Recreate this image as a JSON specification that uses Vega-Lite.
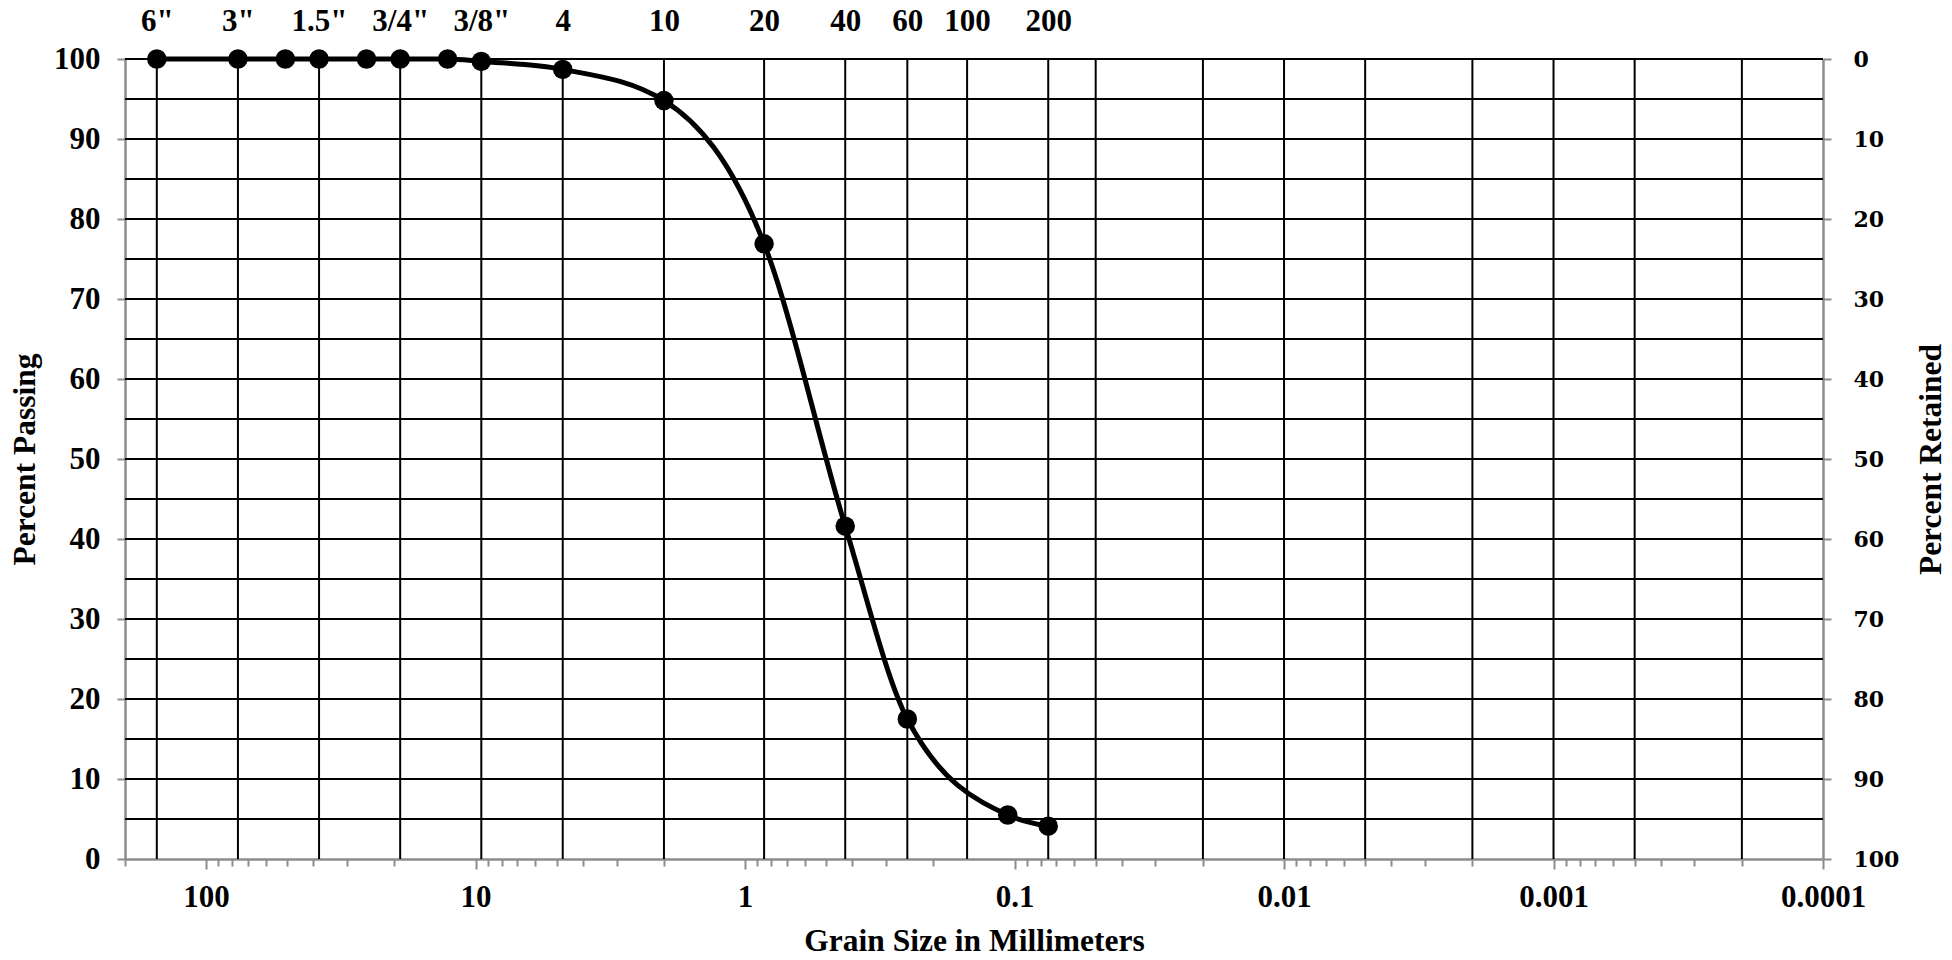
{
  "$schema": "https://vega.github.io/schema/vega-lite/v6.json",
  "width": 1698,
  "height": 800,
  "autosize": "none",
  "padding": {"left": 125, "top": 59, "right": 129, "bottom": 101},
  "background": "white",
  "config": {"view": {"stroke": null}},
  "datasets": {
    "points": [
      {"mm": 152.4, "passing": 100},
      {"mm": 76.2, "passing": 100},
      {"mm": 50.8, "passing": 100},
      {"mm": 38.1, "passing": 100},
      {"mm": 25.4, "passing": 100},
      {"mm": 19.05, "passing": 100},
      {"mm": 12.7, "passing": 100},
      {"mm": 9.525, "passing": 99.7},
      {"mm": 4.75, "passing": 98.7},
      {"mm": 2.0, "passing": 94.8},
      {"mm": 0.85, "passing": 76.9},
      {"mm": 0.425, "passing": 41.6},
      {"mm": 0.25, "passing": 17.5},
      {"mm": 0.106, "passing": 5.5},
      {"mm": 0.075, "passing": 4.1}
    ],
    "vgrid": [
      {"mm": 152.4}, {"mm": 76.2}, {"mm": 38.1}, {"mm": 19.05}, {"mm": 9.525},
      {"mm": 4.75}, {"mm": 2}, {"mm": 0.85}, {"mm": 0.425}, {"mm": 0.25},
      {"mm": 0.15}, {"mm": 0.075}, {"mm": 0.05}, {"mm": 0.02}, {"mm": 0.01},
      {"mm": 0.005}, {"mm": 0.002}, {"mm": 0.001}, {"mm": 0.0005}, {"mm": 0.0002}
    ],
    "hgrid": [
      {"p": 5}, {"p": 10}, {"p": 15}, {"p": 20}, {"p": 25}, {"p": 30}, {"p": 35},
      {"p": 40}, {"p": 45}, {"p": 50}, {"p": 55}, {"p": 60}, {"p": 65}, {"p": 70},
      {"p": 75}, {"p": 80}, {"p": 85}, {"p": 90}, {"p": 95}, {"p": 100}
    ]
  },
  "resolve": {"axis": {"x": "independent", "y": "independent"}},
  "layer": [
    {
      "data": {"name": "hgrid"},
      "mark": {"type": "rule", "color": "black", "strokeWidth": 2},
      "encoding": {
        "y": {
          "field": "p", "type": "quantitative",
          "scale": {"domain": [0, 100], "nice": false, "zero": true},
          "axis": {
            "orient": "left",
            "values": [0, 10, 20, 30, 40, 50, 60, 70, 80, 90, 100],
            "grid": false,
            "domainColor": "#8c8c8c", "domainWidth": 2.5,
            "tickColor": "#8c8c8c", "tickWidth": 2, "tickSize": 8,
            "labelPadding": 17,
            "labelFont": "Liberation Serif", "labelFontWeight": "bold", "labelFontSize": 31, "labelColor": "black",
            "labelOverlap": false, "labelFlush": false,
            "title": "Percent Passing",
            "titleFont": "Liberation Serif", "titleFontWeight": "bold", "titleFontSize": 31.5, "titleColor": "black",
            "titleAngle": -90, "titleX": -100, "titleY": 400, "titleAlign": "center", "titleBaseline": "middle"
          }
        }
      }
    },
    {
      "data": {"name": "vgrid"},
      "mark": {"type": "rule", "color": "black", "strokeWidth": 2},
      "encoding": {
        "x": {
          "field": "mm", "type": "quantitative",
          "scale": {"type": "log", "domain": [0.0001, 200], "reverse": true, "nice": false},
          "axis": {
            "orient": "top",
            "values": [152.4, 76.2, 38.1, 19.05, 9.525, 4.75, 2, 0.85, 0.425, 0.25, 0.15, 0.075],
            "labelExpr": "datum.value == 152.4 ? '6\"' : datum.value == 76.2 ? '3\"' : datum.value == 38.1 ? '1.5\"' : datum.value == 19.05 ? '3/4\"' : datum.value == 9.525 ? '3/8\"' : datum.value == 4.75 ? '4' : datum.value == 2 ? '10' : datum.value == 0.85 ? '20' : datum.value == 0.425 ? '40' : datum.value == 0.25 ? '60' : datum.value == 0.15 ? '100' : '200'",
            "grid": false, "domain": false, "ticks": false, "tickSize": 0,
            "labelPadding": 22,
            "labelFont": "Liberation Serif", "labelFontWeight": "bold", "labelFontSize": 31, "labelColor": "black",
            "labelOverlap": false, "labelFlush": false,
            "title": null
          }
        }
      }
    },
    {
      "data": {"name": "points"},
      "mark": {"type": "line", "color": "black", "strokeWidth": 5, "interpolate": "monotone"},
      "encoding": {
        "x": {
          "field": "mm", "type": "quantitative",
          "scale": {"type": "log", "domain": [0.0001, 200], "reverse": true, "nice": false},
          "axis": {
            "orient": "bottom",
            "values": [100, 10, 1, 0.1, 0.01, 0.001, 0.0001],
            "format": "~g",
            "grid": false,
            "domainColor": "#8c8c8c", "domainWidth": 2.5,
            "tickColor": "#8c8c8c", "tickWidth": 2, "tickSize": 10,
            "labelPadding": 13,
            "labelFont": "Liberation Serif", "labelFontWeight": "bold", "labelFontSize": 31, "labelColor": "black",
            "labelOverlap": false, "labelFlush": false,
            "title": "Grain Size in Millimeters",
            "titleFont": "Liberation Serif", "titleFontWeight": "bold", "titleFontSize": 31.5, "titleColor": "black",
            "titleY": 82, "titleX": 849, "titleAlign": "center", "titleBaseline": "middle"
          }
        },
        "y": {
          "field": "passing", "type": "quantitative",
          "scale": {"domain": [0, 100], "nice": false, "zero": true},
          "axis": {
            "orient": "right",
            "values": [0, 10, 20, 30, 40, 50, 60, 70, 80, 90, 100],
            "labelExpr": "'' + (100 - datum.value)",
            "grid": false,
            "domainColor": "#8c8c8c", "domainWidth": 2.5,
            "tickColor": "#8c8c8c", "tickWidth": 2, "tickSize": 8,
            "labelPadding": 22,
            "labelFont": "DejaVu Serif", "labelFontWeight": "bold", "labelFontSize": 22, "labelColor": "black",
            "labelOverlap": false, "labelFlush": false,
            "title": "Percent Retained",
            "titleFont": "Liberation Serif", "titleFontWeight": "bold", "titleFontSize": 31.5, "titleColor": "black",
            "titleAngle": -90, "titleX": 108, "titleY": 400, "titleAlign": "center", "titleBaseline": "middle"
          }
        }
      }
    },
    {
      "data": {"name": "points"},
      "mark": {"type": "circle", "color": "black", "size": 380, "opacity": 1},
      "encoding": {
        "x": {
          "field": "mm", "type": "quantitative",
          "scale": {"type": "log", "domain": [0.0001, 200], "reverse": true, "nice": false},
          "axis": {
            "orient": "bottom",
            "values": [200, 90, 80, 70, 60, 50, 40, 30, 20, 9, 8, 7, 6, 5, 4, 3, 2, 0.9, 0.8, 0.7, 0.6, 0.5, 0.4, 0.3, 0.2, 0.09, 0.08, 0.07, 0.06, 0.05, 0.04, 0.03, 0.02, 0.009, 0.008, 0.007, 0.006, 0.005, 0.004, 0.003, 0.002, 0.0009, 0.0008, 0.0007, 0.0006, 0.0005, 0.0004, 0.0003, 0.0002],
            "labels": false, "domain": false, "grid": false,
            "tickColor": "#8c8c8c", "tickWidth": 2, "tickSize": 7,
            "title": null
          }
        },
        "y": {
          "field": "passing", "type": "quantitative",
          "scale": {"domain": [0, 100], "nice": false, "zero": true},
          "axis": null
        }
      }
    }
  ]
}
